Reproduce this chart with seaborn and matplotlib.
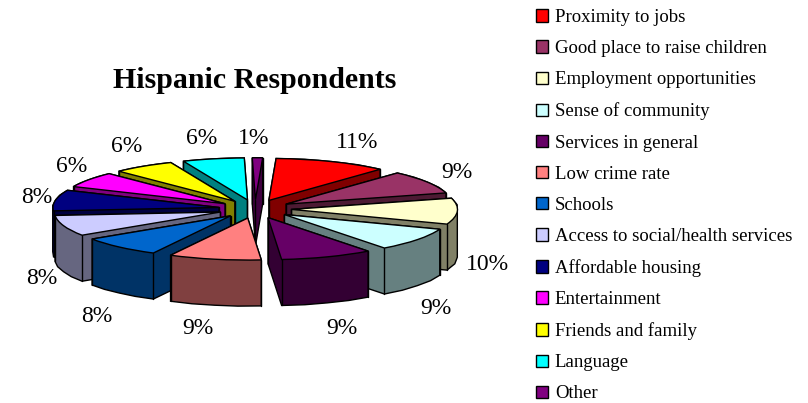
import numpy as np
import matplotlib
matplotlib.use("Agg")
import matplotlib.pyplot as plt
import seaborn as sns
from matplotlib.patches import Polygon
from matplotlib.path import Path

categories = ["Proximity to jobs", "Good place to raise children", "Employment opportunities",
              "Sense of community", "Services in general", "Low crime rate", "Schools",
              "Access to social/health services", "Affordable housing", "Entertainment",
              "Friends and family", "Language", "Other"]
shares = [11, 9, 10, 9, 9, 9, 8, 8, 8, 6, 6, 6, 1]
hex_colors = ["#FF0000", "#993366", "#FFFFCC", "#CCFFFF", "#660066", "#FF8080", "#0066CC",
              "#CCCCFF", "#000080", "#FF00FF", "#FFFF00", "#00FFFF", "#800080"]
title = "Hispanic Respondents"

# layout, in reference pixels
W, H = 808, 403
CX, CY, RX, RY, DEPTH = 255, 209, 166, 42, 46
EXPLODE = 0.22
START_ANGLE = 87.5
LABEL_PX = [(357, 142), (457, 173), (487, 265), (436, 308), (342, 328), (198, 329), (97, 317),
            (42, 278), (37, 197), (72, 167), (127, 146), (202, 139), (254, 138)]

sns.set_style("white")
plt.rcParams["font.family"] = ["Liberation Serif", "DejaVu Serif"]
plt.rcParams["text.color"] = "black"
palette = sns.color_palette(hex_colors)


def hull(points):
    pts = sorted(set(map(tuple, np.round(points, 6))))
    def half(seq):
        out = []
        for p in seq:
            while len(out) > 1 and ((out[-1][0]-out[-2][0])*(p[1]-out[-2][1])
                                    - (out[-1][1]-out[-2][1])*(p[0]-out[-2][0])) <= 0:
                out.pop()
            out.append(p)
        return out[:-1]
    return np.array(half(pts) + half(pts[::-1]))


fig = plt.figure(figsize=(W / 100, H / 100), dpi=100)
AX_W = 510
ax = fig.add_axes([0, 0, AX_W / W, 1])
wedges, _ = ax.pie(shares, colors=palette, startangle=START_ANGLE, counterclock=False,
                   explode=[EXPLODE] * len(shares), radius=1,
                   wedgeprops=dict(edgecolor="black", linewidth=1.0))
ax.set_aspect("auto")
ax.set_xlim(-CX / RX, (AX_W - CX) / RX)
ax.set_ylim(-(H - CY) / RY, CY / RY)
ax.axis("off")

depth = DEPTH / RY
mids = [np.deg2rad((w.theta1 + w.theta2) / 2) for w in wedges]
order = np.argsort([-np.sin(m) for m in mids])
for rank, i in enumerate(order):
    w = wedges[i]
    base = 10 + rank * 3
    verts = w.get_patch_transform().transform_path(w.get_path()).to_polygons(closed_only=False)[0]
    shifted = verts - np.array([0, depth])
    dark = tuple(c * 0.5 for c in palette[i])
    ax.add_patch(Polygon(hull(np.vstack([verts, shifted])), closed=True, facecolor=dark,
                         edgecolor="black", linewidth=1.0, zorder=base))
    cx, cy = w.center
    corners = [(cx, cy)]
    for t in (w.theta1, w.theta2):
        corners.append((cx + w.r * np.cos(np.deg2rad(t)), cy + w.r * np.sin(np.deg2rad(t))))
    outline = Path(verts)
    for x, y in corners:
        if not outline.contains_point((x, y - 0.02)):
            ax.plot([x, x], [y, y - depth], color="black", lw=1.0, zorder=base + 1)
    w.set_zorder(base + 2)

ax.set_title(title, fontsize=21.5, fontweight="bold", y=1 - 81 / H, va="center", pad=0)

for share, (x, y) in zip(shares, LABEL_PX):
    fig.text(x / W, 1 - y / H, f"{share}%", fontsize=17, ha="center", va="center")

leg = fig.legend(wedges, categories, loc="upper left", bbox_to_anchor=(536 / W, 1 - 9 / H),
                 frameon=False, fontsize=13.5, handlelength=0.64, handleheight=0.64,
                 handletextpad=0.36, labelspacing=0.755, borderpad=0, borderaxespad=0)

fig.savefig("out.png", dpi=100, facecolor="white")
